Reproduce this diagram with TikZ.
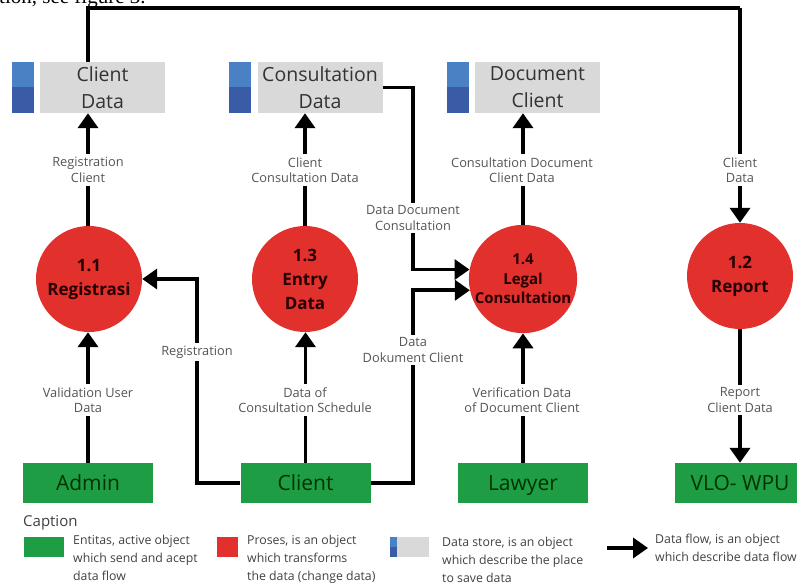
\documentclass[tikz,border=0pt]{standalone}
\usepackage{fontspec}
\setmainfont{Open Sans}
\newfontfamily\serifpaper{Liberation Serif}
\usetikzlibrary{arrows.meta,calc}
\definecolor{storegray}{HTML}{D9D9D9}
\definecolor{bluetop}{HTML}{4A80C4}
\definecolor{bluebot}{HTML}{3A5BA6}
\definecolor{entgreen}{HTML}{1F9D45}
\definecolor{procred}{HTML}{E2302C}
\definecolor{lblgray}{HTML}{555555}
\tikzset{
  flow/.style={line width=3.8pt, -{Triangle[width=20pt,length=15pt]}},
  plain/.style={line width=3.8pt},
  store/.style={fill=storegray, minimum width=125pt, minimum height=51pt, inner sep=0pt, align=center,
    text=black!80, font=\fontsize{19.5}{27}\selectfont},
  proc/.style={circle, fill=procred, minimum size=106pt, inner sep=0pt, align=center,
    text=black!85!red, font=\fontsize{17}{24}\selectfont\bfseries},
  ent/.style={fill=entgreen, minimum width=130pt, minimum height=40pt, inner sep=0pt,
    text height=18pt, text depth=4pt,
    text=black!80!green, font=\fontsize{21}{24}\selectfont},
  lbl/.style={fill=white, inner sep=3pt, align=center, text=lblgray, font=\fontsize{12.8}{15.5}\selectfont},
  leg/.style={anchor=north west, align=left, inner sep=0pt, text=black!75, font=\fontsize{12.3}{18}\selectfont},
}
\begin{document}
\begin{tikzpicture}[x=1pt,y=-1pt]
\useasboundingbox (0,0) rectangle (797,585);
\clip (0,0) rectangle (797,585);
% cut-off text of the paper above
\node[anchor=base west, inner sep=0pt, font=\serifpaper\fontsize{21}{24}\selectfont] (paper) at (-1,4) {tion, see figure 3.};
% data stores
\node[store] (cd) at (102.5,87.5) {Client\\Data};
\node[store] (cs) at (320,87.5) {Consultation\\Data};
\node[store] (dc) at (537.5,87.5) {Document\\Client};
\foreach \x in {12,229,447}{
  \fill[bluetop] (\x,62) rectangle ++(21.5,25.5);
  \fill[bluebot] (\x,87.5) rectangle ++(21.5,25.5);
}
% processes
\node[proc] (p11) at (89,279) {1.1\\Registrasi};
\node[proc] (p13) at (305,279) {1.3\\Entry\\Data};
\node[proc, font=\fontsize{15}{19.5}\selectfont\bfseries] (p14) at (523,279) {1.4\\Legal\\Consultation};
\node[proc] (p12) at (740,276) {1.2\\Report};
% entities
\node[ent] (ad) at (88,483) {Admin};
\node[ent] (cl) at (305.5,483) {Client};
\node[ent] (lw) at (523,483) {Lawyer};
\node[ent] (vlo) at (740,483) {VLO- WPU};
% helper coordinates
\coordinate (tl) at (88,8);
\coordinate (tr) at (740,8);
\coordinate (rg) at (197,279);
\coordinate (dd) at (413,0);
% flows
\draw[flow] (p11.north -| ad.north) -- (ad.north |- cd.south);
\draw[flow] (p13.north) -- (p13.north |- cs.south);
\draw[flow] (p14.north) -- (p14.north |- dc.south);
\draw[plain] (tl |- cd.north) -- (tl) -- (tr);
\draw[flow] (tr) -- (p12.north);
\draw[flow] (ad.north) -- (ad.north |- p11.south);
\draw[flow] (cl.north) -- (cl.north |- p13.south);
\draw[flow] (lw.north) -- (p14.south);
\draw[flow] (p12.south) -- (vlo.north);
\draw[flow] (cl.west) -| (rg) -- (p11.east);
\draw[flow] (cs.east) -| (dd |- p14.170) -- (p14.170);
\draw[flow] (cl.east) -| (dd |- p14.192) -- (p14.192);
% labels
\node[lbl] (l1) at (88,170) {Registration\\Client};
\node[lbl] (l2) at (305,170) {Client\\Consultation Data};
\node[lbl] (l3) at (522,170) {Consultation Document\\Client Data};
\node[lbl] (l4) at (740,170) {Client\\Data};
\node[lbl] (l5) at (413,218) {Data Document\\Consultation};
\node[lbl] (l6) at (197,352) {Registration};
\node[lbl] (l7) at (413,350) {Data\\Dokument Client};
\node[lbl] (l8) at (88,400) {Validation User\\Data};
\node[lbl] (l9) at (305,400) {Data of\\Consultation Schedule};
\node[lbl] (l10) at (522,400) {Verification Data\\of Document Client};
\node[lbl] (l11) at (740,400) {Report\\Client Data};
% legend
\node[anchor=west, inner sep=0pt, text=black!75, font=\fontsize{15}{18}\selectfont] (cap) at (23,523) {Caption};
\fill[entgreen] (24,537) rectangle (64,557);
\node[leg] (t1) at (73,535) {Entitas, active object\\which send and acept\\data flow};
\fill[procred] (217,537) rectangle (238,557);
\node[leg] (t2) at (247,535) {Proses, is an object\\which transforms\\the data (change data)};
\fill[storegray] (397,537) rectangle (429,557);
\fill[bluetop] (390,537) rectangle (397,547);
\fill[bluebot] (390,547) rectangle (397,557);
\node[leg] (t3) at (442,537) {Data store, is an object\\which describe the place\\to save data};
\coordinate (la) at (607,548);
\coordinate (lb) at (648,548);
\draw[flow] (la) -- (lb);
\node[leg] (t4) at (655,534) {Data flow, is an object\\which describe data flow};
\end{tikzpicture}
\end{document}
